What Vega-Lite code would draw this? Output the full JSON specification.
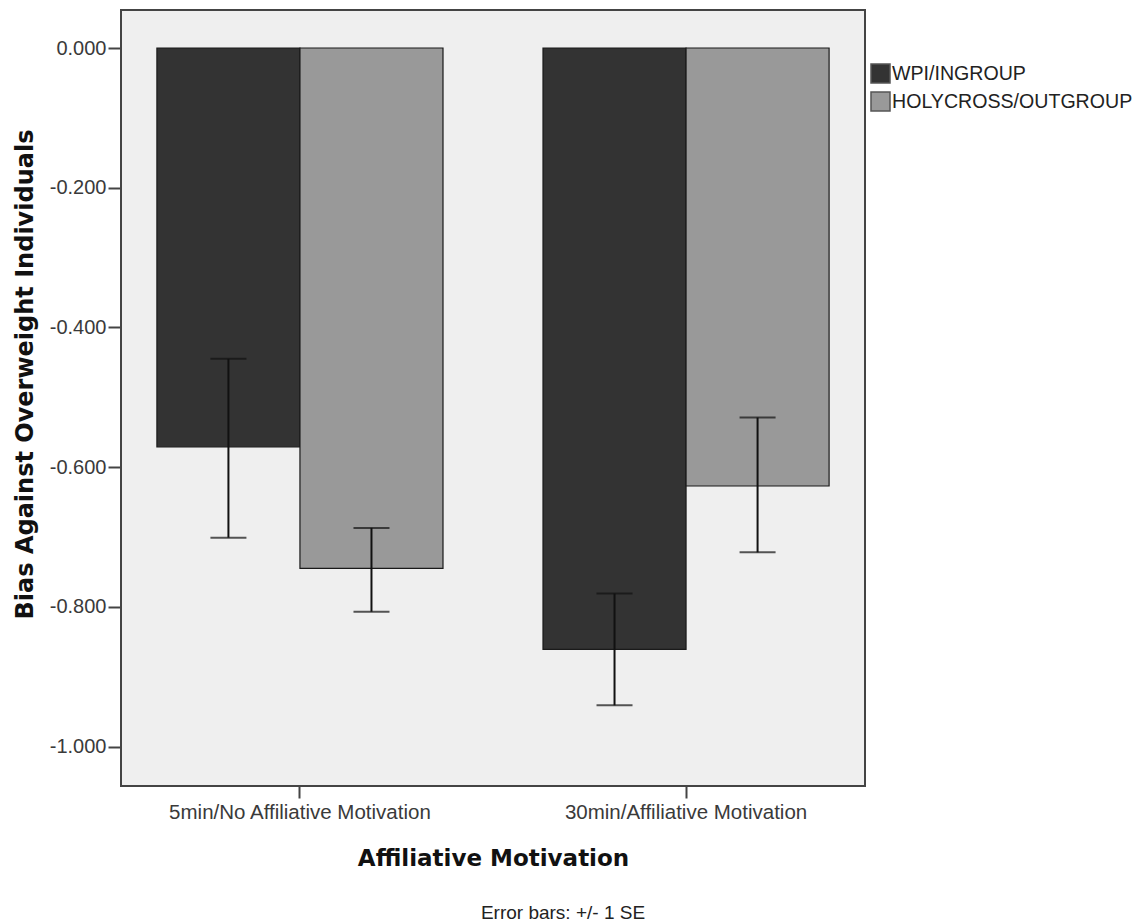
{
  "$schema": "https://vega.github.io/schema/vega-lite/v6.json",
  "width": 744,
  "height": 776,
  "autosize": {"type": "none"},
  "padding": {"left": 121, "top": 10, "right": 277, "bottom": 138},
  "background": "white",
  "config": {
    "view": {"fill": "#efefef", "stroke": "#444444", "strokeWidth": 2},
    "font": "Liberation Sans"
  },
  "title": {
    "text": "Error bars: +/- 1 SE",
    "orient": "bottom",
    "anchor": "middle",
    "font": "Liberation Sans",
    "fontSize": 19,
    "fontWeight": "normal",
    "color": "#222222",
    "dx": 70,
    "offset": 34
  },
  "data": {
    "values": [
      {"cond": "5min/No Affiliative Motivation", "group": "WPI/INGROUP", "mean": -0.571, "lo": -0.701, "hi": -0.445},
      {"cond": "5min/No Affiliative Motivation", "group": "HOLYCROSS/OUTGROUP", "mean": -0.745, "lo": -0.807, "hi": -0.687},
      {"cond": "30min/Affiliative Motivation", "group": "WPI/INGROUP", "mean": -0.861, "lo": -0.941, "hi": -0.781},
      {"cond": "30min/Affiliative Motivation", "group": "HOLYCROSS/OUTGROUP", "mean": -0.627, "lo": -0.722, "hi": -0.529}
    ]
  },
  "encoding": {
    "x": {
      "field": "cond",
      "type": "nominal",
      "sort": ["5min/No Affiliative Motivation", "30min/Affiliative Motivation"],
      "scale": {"paddingInner": 0.259, "paddingOuter": 0.093},
      "axis": {
        "title": "Affiliative Motivation",
        "titleFont": "DejaVu Sans",
        "titleFontSize": 23,
        "titleFontWeight": "bold",
        "titleColor": "#111111",
        "titleX": 372,
        "titleY": 72,
        "titleBaseline": "middle",
        "labelAngle": 0,
        "labelLimit": 0,
        "labelFont": "Liberation Sans",
        "labelFontSize": 20.5,
        "labelColor": "#3a3a3a",
        "labelPadding": 4,
        "tickSize": 12,
        "tickWidth": 2,
        "tickColor": "#444444",
        "domain": false
      }
    },
    "xOffset": {
      "field": "group",
      "type": "nominal",
      "sort": ["WPI/INGROUP", "HOLYCROSS/OUTGROUP"],
      "scale": {"paddingInner": 0, "paddingOuter": 0}
    }
  },
  "layer": [
    {
      "mark": {"type": "bar", "stroke": "#1a1a1a", "strokeWidth": 1.2},
      "encoding": {
        "y": {
          "field": "mean",
          "type": "quantitative",
          "scale": {"domain": [-1.0565, 0.0544], "nice": false, "zero": false},
          "axis": {
            "title": "Bias Against Overweight Individuals",
            "titleFont": "DejaVu Sans",
            "titleFontSize": 24,
            "titleFontWeight": "bold",
            "titleColor": "#111111",
            "titleX": -96,
            "titleY": 364,
            "titleAngle": -90,
            "titleAlign": "center",
            "titleBaseline": "middle",
            "values": [0, -0.2, -0.4, -0.6, -0.8, -1.0],
            "labelExpr": "replace(format(datum.value, '.3f'), '\u2212', '-')",
            "labelFont": "Liberation Sans",
            "labelFontSize": 20,
            "labelColor": "#3a3a3a",
            "labelPadding": 2,
            "tickSize": 13,
            "tickWidth": 2,
            "tickColor": "#444444",
            "grid": false,
            "domain": false
          }
        },
        "y2": {"datum": 0},
        "color": {
          "field": "group",
          "type": "nominal",
          "sort": ["WPI/INGROUP", "HOLYCROSS/OUTGROUP"],
          "scale": {"domain": ["WPI/INGROUP", "HOLYCROSS/OUTGROUP"], "range": ["#333333", "#999999"]},
          "legend": {
            "title": null,
            "orient": "none",
            "legendX": 749,
            "legendY": 53,
            "padding": 0,
            "symbolType": "square",
            "symbolSize": 361,
            "symbolStrokeColor": "#555555",
            "symbolStrokeWidth": 1.5,
            "labelFont": "Liberation Sans",
            "labelFontSize": 19.6,
            "labelLimit": 0,
            "labelColor": "#222222",
            "labelOffset": 1,
            "rowPadding": 3
          }
        }
      }
    },
    {
      "mark": {"type": "rule", "color": "#111111", "strokeWidth": 2},
      "encoding": {
        "y": {"field": "lo", "type": "quantitative"},
        "y2": {"field": "hi"}
      }
    },
    {
      "mark": {"type": "tick", "color": "#111111", "size": 36, "thickness": 2},
      "encoding": {
        "y": {"field": "lo", "type": "quantitative"}
      }
    },
    {
      "mark": {"type": "tick", "color": "#111111", "size": 36, "thickness": 2},
      "encoding": {
        "y": {"field": "hi", "type": "quantitative"}
      }
    }
  ]
}
